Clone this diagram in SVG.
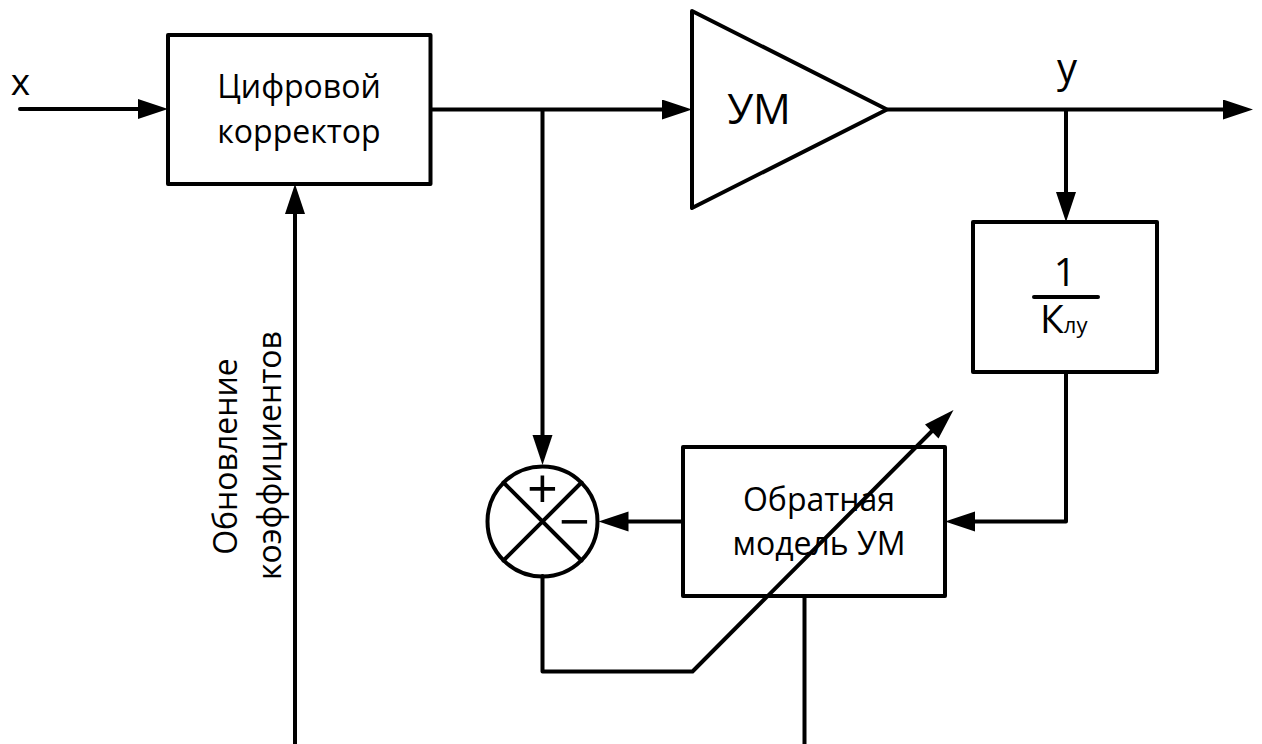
<svg xmlns="http://www.w3.org/2000/svg" width="1262" height="744" viewBox="0 0 1262 744">
<style>
.s{fill:none;stroke:#000;stroke-width:4;stroke-linejoin:round;stroke-linecap:round}
.b{fill:#fff;stroke:#000;stroke-width:4;stroke-linejoin:round}
.t{font-family:"Open Sans","Noto Sans","DejaVu Sans",sans-serif;fill:#000;text-anchor:middle}
</style>
<defs>
<marker id="a" markerUnits="userSpaceOnUse" markerWidth="32" markerHeight="22" refX="22" refY="10" orient="auto"><path d="M0 0L30 10L0 20Z" fill="#000"/></marker>
</defs>
<rect width="1262" height="744" fill="#fff"/>
<g id="connectors">
<path class="s" d="M20 109H160" marker-end="url(#a)"/>
<path class="s" d="M431 109.500H684" marker-end="url(#a)"/>
<path class="s" d="M888 109.500H1245" marker-end="url(#a)"/>
<path class="s" d="M1066 110V214" marker-end="url(#a)"/>
<path class="s" d="M295 746V192" marker-end="url(#a)"/>
<path class="s" d="M542.500 110V457" marker-end="url(#a)"/>
<path class="s" d="M1066 372V521.500H953" marker-end="url(#a)"/>
<path class="s" d="M683 521.500H606.500" marker-end="url(#a)"/>
<path class="s" d="M804.500 596V746"/>
</g>
<g id="n-corrector"><rect class="b" x="168" y="35" width="262.500" height="149"/>
<text class="t" font-size="32" x="299" y="98">Цифровой</text><text class="t" font-size="32" x="299" y="143">корректор</text></g>
<g id="n-pa"><path class="b" d="M692 11L887 109.500L692 208Z"/><text class="t" font-size="42" x="759" y="124">УМ</text></g>
<g id="n-gain"><rect class="b" x="973" y="222" width="184" height="150"/>
<text class="t" font-size="39" x="1065" y="286">1</text><path class="s" d="M1034 297H1098"/>
<text class="t" style="text-anchor:start" font-size="39" x="1040" y="333">К<tspan font-size="22">лу</tspan></text></g>
<g id="n-model"><rect class="b" x="683" y="447" width="262" height="149"/>
<text class="t" font-size="32" x="819" y="511">Обратная</text><text class="t" font-size="32" x="819" y="555">модель УМ</text></g>
<g id="n-sum"><circle class="b" cx="542.500" cy="521.500" r="55"/><path class="s" d="M503.500 482.500L581.500 560.500M581.500 482.500L503.500 560.500"/>
<text class="t" font-size="54" x="542.500" y="508">+</text><text class="t" font-size="54" x="574.500" y="541">−</text></g>
<g id="c-adapt"><path class="s" d="M542.500 576V671.500H692.500L938 425"/><path d="M953.500 410L938.500 438.500L925 424.500Z" fill="#000"/></g>
<g id="labels"><text class="t" font-size="37" x="20.500" y="95">x</text><text class="t" font-size="40" x="1067" y="82">y</text>
<text class="t" font-size="32" transform="translate(236.500 456.500) rotate(-90)">Обновление</text>
<text class="t" font-size="32" transform="translate(281 455.500) rotate(-90)">коэффициентов</text></g>
</svg>
